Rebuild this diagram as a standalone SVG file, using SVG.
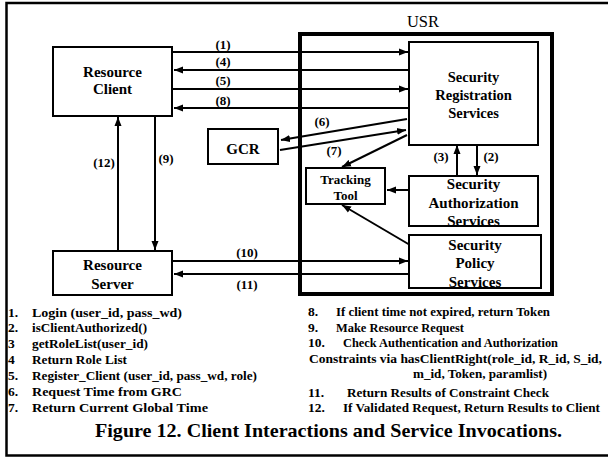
<svg xmlns="http://www.w3.org/2000/svg" width="608" height="457" viewBox="0 0 608 457">
<style>
text{font-family:"Liberation Serif","Times New Roman",serif;font-weight:bold;fill:#000}
.n{font-size:15px;text-anchor:middle}
.l{font-size:13px;text-anchor:middle}
.t{font-size:13.5px}
.box{fill:#fff;stroke:#000;stroke-width:2}
.c{stroke:#000;stroke-width:2;fill:none}
</style>
<defs>
<marker id="ah" markerUnits="userSpaceOnUse" markerWidth="10" markerHeight="8" refX="9" refY="4" orient="auto">
<path d="M0,0.5 L9,4 L0,7.5 Z" fill="#000"/>
</marker>
</defs>
<rect x="6.5" y="3" width="620" height="452.5" fill="#fff" stroke="#000" stroke-width="2.5"/>
<g id="usr">
<rect x="300" y="34" width="252" height="260" fill="none" stroke="#000" stroke-width="4"/>
<text x="423" y="27" style="font-size:16.5px;font-weight:normal;text-anchor:middle">USR</text>
</g>
<g id="connectors">
<line class="c" x1="173" y1="52" x2="408" y2="52" marker-end="url(#ah)"/>
<line class="c" x1="409" y1="70" x2="174" y2="70" marker-end="url(#ah)"/>
<line class="c" x1="173" y1="89" x2="408" y2="89" marker-end="url(#ah)"/>
<line class="c" x1="409" y1="108" x2="174" y2="108" marker-end="url(#ah)"/>
<line class="c" x1="407" y1="119" x2="281" y2="140" marker-end="url(#ah)"/>
<line class="c" x1="280" y1="150" x2="406" y2="130" marker-end="url(#ah)"/>
<line class="c" x1="407" y1="135" x2="342" y2="167" marker-end="url(#ah)"/>
<line class="c" x1="457" y1="176" x2="457" y2="145" marker-end="url(#ah)"/>
<line class="c" x1="477" y1="145" x2="477" y2="175" marker-end="url(#ah)"/>
<line class="c" x1="409" y1="190" x2="387" y2="190" marker-end="url(#ah)"/>
<line class="c" x1="410" y1="245" x2="342" y2="205" marker-end="url(#ah)"/>
<line class="c" x1="173" y1="261" x2="408" y2="261" marker-end="url(#ah)"/>
<line class="c" x1="409" y1="274" x2="174" y2="274" marker-end="url(#ah)"/>
<line class="c" x1="118" y1="251" x2="118" y2="117" marker-end="url(#ah)"/>
<line class="c" x1="155" y1="116" x2="155" y2="250" marker-end="url(#ah)"/>
<text class="l" x="223" y="49">(1)</text>
<text class="l" x="223" y="66">(4)</text>
<text class="l" x="223" y="85">(5)</text>
<text class="l" x="223" y="105">(8)</text>
<text class="l" x="322" y="126">(6)</text>
<text class="l" x="334" y="155">(7)</text>
<text class="l" x="441" y="161">(3)</text>
<text class="l" x="491" y="161">(2)</text>
<text class="l" x="247" y="257">(10)</text>
<text class="l" x="247" y="289">(11)</text>
<text class="l" x="104" y="167">(12)</text>
<text class="l" x="166" y="163">(9)</text>
</g>
<g id="resource-client">
<rect class="box" x="53" y="47" width="119" height="69"/>
<text class="n" x="112.5" y="77">Resource</text>
<text class="n" x="112.5" y="94">Client</text>
</g>
<g id="gcr">
<rect class="box" x="208" y="129" width="70" height="35"/>
<text class="n" x="243" y="154">GCR</text>
</g>
<g id="srs">
<rect class="box" x="409" y="42" width="129" height="103"/>
<text class="n" x="473.5" y="82" style="font-size:14.5px">Security</text>
<text class="n" x="473.5" y="100" style="font-size:14.5px">Registration</text>
<text class="n" x="473.5" y="118" style="font-size:14.5px">Services</text>
</g>
<g id="tracking-tool">
<rect class="box" x="306" y="168" width="79" height="36"/>
<text class="n" x="345.5" y="184" style="font-size:13px">Tracking</text>
<text class="n" x="345.5" y="200" style="font-size:13px">Tool</text>
</g>
<g id="sas">
<rect class="box" x="409" y="176" width="129" height="50"/>
<text class="n" x="473.5" y="189">Security</text>
<text class="n" x="473.5" y="208">Authorization</text>
<text class="n" x="473.5" y="226">Services</text>
</g>
<g id="sps">
<rect class="box" x="409" y="235" width="132" height="53"/>
<text class="n" x="475" y="250">Security</text>
<text class="n" x="475" y="268">Policy</text>
<text class="n" x="475" y="287">Services</text>
</g>
<g id="resource-server">
<rect class="box" x="53" y="251" width="119" height="44"/>
<text class="n" x="112.5" y="270">Resource</text>
<text class="n" x="112.5" y="289">Server</text>
</g>
<g id="legend">
<text class="t" x="8" y="316.5">1.</text>
<text class="t" x="32" y="316.5" textLength="150" lengthAdjust="spacingAndGlyphs">Login (user_id, pass_wd)</text>
<text class="t" x="8" y="332">2.</text>
<text class="t" x="32" y="332" textLength="115" lengthAdjust="spacingAndGlyphs">isClientAuthorized()</text>
<text class="t" x="8" y="348">3</text>
<text class="t" x="32" y="348" textLength="116" lengthAdjust="spacingAndGlyphs">getRoleList(user_id)</text>
<text class="t" x="8" y="363.5">4</text>
<text class="t" x="32" y="363.5" textLength="95" lengthAdjust="spacingAndGlyphs">Return Role List</text>
<text class="t" x="8" y="379.5">5.</text>
<text class="t" x="32" y="379.5" textLength="225" lengthAdjust="spacingAndGlyphs">Register_Client (user_id, pass_wd, role)</text>
<text class="t" x="8" y="395.5">6.</text>
<text class="t" x="32" y="395.5" textLength="150" lengthAdjust="spacingAndGlyphs">Request Time from GRC</text>
<text class="t" x="8" y="411.5">7.</text>
<text class="t" x="32" y="411.5" textLength="176" lengthAdjust="spacingAndGlyphs">Return Current Global Time</text>
<text class="t" x="308" y="316">8.</text>
<text class="t" x="336" y="316" textLength="214" lengthAdjust="spacingAndGlyphs">If client time not expired, return Token</text>
<text class="t" x="308" y="331.5">9.</text>
<text class="t" x="336" y="331.5" textLength="128" lengthAdjust="spacingAndGlyphs">Make Resource Request</text>
<text class="t" x="308" y="347">10.</text>
<text class="t" x="343" y="347" textLength="215" lengthAdjust="spacingAndGlyphs">Check Authentication and Authorization</text>
<text class="t" x="309" y="362.5" textLength="293" lengthAdjust="spacingAndGlyphs">Constraints via hasClientRight(role_id, R_id, S_id,</text>
<text class="t" x="413" y="378" textLength="134" lengthAdjust="spacingAndGlyphs">m_id, Token, paramlist)</text>
<text class="t" x="308" y="396.5">11.</text>
<text class="t" x="347" y="396.5" textLength="202" lengthAdjust="spacingAndGlyphs">Return Results of Constraint Check</text>
<text class="t" x="308" y="412">12.</text>
<text class="t" x="343" y="412" textLength="257" lengthAdjust="spacingAndGlyphs">If Validated Request, Return Results to Client</text>
</g>
<text x="95" y="437" style="font-size:19px" textLength="467" lengthAdjust="spacingAndGlyphs">Figure 12. Client Interactions and Service Invocations.</text>
</svg>
